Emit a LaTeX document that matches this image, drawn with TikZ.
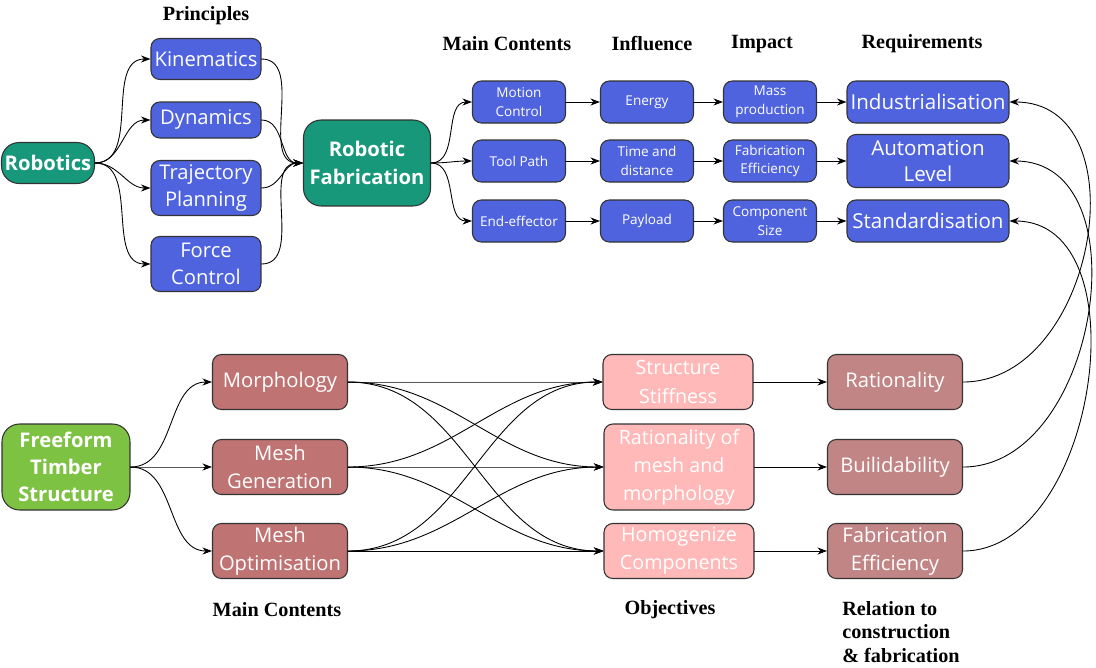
\documentclass[tikz,border=0pt]{standalone}
\usepackage{fontspec}
\setsansfont{Open Sans}
\newfontfamily\headfont{Liberation Serif}
\usepackage{tikz}
\usetikzlibrary{arrows.meta}
\usepackage{xcolor}
\definecolor{robteal}{HTML}{17987A}
\definecolor{robblue}{HTML}{4F63DF}
\definecolor{timbergreen}{HTML}{7DC243}
\definecolor{controse}{HTML}{BF7373}
\definecolor{objpink}{HTML}{FFB9B9}
\definecolor{relrose}{HTML}{C28585}

\begin{document}
\begin{tikzpicture}[x=0.02cm,y=-0.02cm,>={Stealth[length=1.9mm,width=1.4mm]},line cap=round,
  box/.style={draw=black!80,line width=0.6pt,rounded corners=5pt,text=white,align=center,inner sep=1pt,
    font=\sffamily\fontsize{11.5}{15.5}\selectfont},
  mainbox/.style={box,rounded corners=10pt,font=\sffamily\bfseries\fontsize{11.5}{15.5}\selectfont},
  prinbox/.style={box,fill=robblue,minimum width=2.2cm},
  rowbox/.style={box,fill=robblue,minimum width=1.86cm,minimum height=0.84cm,
    font=\sffamily\fontsize{7.7}{10.5}\selectfont},
  reqbox/.style={box,fill=robblue,minimum width=3.24cm,font=\sffamily\fontsize{11.7}{15}\selectfont},
  contbox/.style={box,fill=controse,minimum width=2.7cm,minimum height=1.1cm,font=\sffamily\fontsize{11.5}{16}\selectfont},
  objbox/.style={box,fill=objpink,minimum width=3.0cm,font=\sffamily\fontsize{11.2}{16}\selectfont},
  relbox/.style={box,fill=relrose,minimum width=2.7cm,minimum height=1.1cm,font=\sffamily\fontsize{11.5}{16}\selectfont},
  colhead/.style={font=\headfont\bfseries\fontsize{11.5}{13.4}\selectfont},
  link/.style={->,line width=0.5pt}]
\useasboundingbox (0,0) rectangle (1096,667);

% robotics part
\node[mainbox,fill=robteal,minimum width=1.86cm,minimum height=0.82cm] (rob) at (48,163) {Robotics};
\node[prinbox,minimum height=0.82cm] (kin) at (206,59) {Kinematics};
\node[prinbox,minimum height=0.72cm] (dyn) at (206,120) {Dynamics};
\node[prinbox,minimum height=1.1cm] (traj) at (206,188) {Trajectory\\Planning};
\node[prinbox,minimum height=1.1cm] (force) at (206,264) {Force\\Control};
\node[mainbox,fill=robteal,minimum width=2.54cm,minimum height=1.72cm] (robfab) at (367,163) {Robotic\\Fabrication};

\node[rowbox] (motion) at (519,102) {Motion\\Control};
\node[rowbox] (tool) at (519,161) {Tool Path};
\node[rowbox] (endeff) at (519,221) {End-effector};
\node[rowbox] (energy) at (647,102) {Energy};
\node[rowbox] (time) at (647,161) {Time and\\distance};
\node[rowbox] (payload) at (647,221) {Payload};
\node[rowbox] (mass) at (770,102) {Mass\\production};
\node[rowbox] (fabeff) at (770,161) {Fabrication\\Efficiency};
\node[rowbox] (compsize) at (770,221) {Component\\Size};
\node[reqbox,minimum height=0.84cm] (indus) at (928,102) {Industrialisation};
\node[reqbox,minimum height=1.06cm] (auto) at (928,161) {Automation\\Level};
\node[reqbox,minimum height=0.84cm] (stand) at (928,221) {Standardisation};

\node[colhead] (hprin) at (206,16) {Principles};
\node[colhead] (hmain) at (507,44) {Main Contents};
\node[colhead] (hinfl) at (652,44) {Influence};
\node[colhead] (himp) at (762,44) {Impact};
\node[colhead] (hreq) at (922,44) {Requirements};

\foreach \p in {kin,dyn,traj,force}{
  \draw[link] (rob.east) to[out=0,in=180] (\p.west);
  \draw[link] (\p.east) to[out=0,in=180] (robfab.west);
}
\foreach \r in {motion,tool,endeff}
  \draw[link] (robfab.east) to[out=0,in=180] (\r.west);
\foreach \a/\b in {motion/energy,energy/mass,mass/indus,tool/time,time/fabeff,fabeff/auto,endeff/payload,payload/compsize,compsize/stand}
  \draw[link] (\a) -- (\b);

% timber part
\node[mainbox,fill=timbergreen,minimum width=2.56cm,minimum height=1.72cm] (timber) at (66,467) {Freeform\\Timber\\Structure};
\node[contbox] (morph) at (280,382) {Morphology};
\node[contbox] (meshgen) at (280,467) {Mesh\\Generation};
\node[contbox] (meshopt) at (280,551) {Mesh\\Optimisation};
\node[objbox,minimum height=1.1cm] (stiff) at (678,382) {Structure\\Stiffness};
\node[objbox,minimum height=1.72cm] (ratmesh) at (679,467) {Rationality of\\mesh and\\morphology};
\node[objbox,minimum height=1.1cm] (homog) at (679,551) {Homogenize\\Components};
\node[relbox] (ration) at (895,382) {Rationality};
\node[relbox] (build) at (895,467) {Builidability};
\node[relbox] (fabeff2) at (895,551) {Fabrication\\Efficiency};

\node[colhead] (hcont) at (277,610) {Main Contents};
\node[colhead] (hobj) at (670,610) {Objectives};
\node[colhead,anchor=north west,align=left,inner sep=0pt] (hrel) at (842,601) {Relation to\\construction\\\& fabrication};

\foreach \c in {morph,meshgen,meshopt}{
  \draw[link] (timber.east) to[out=0,in=180] (\c.west);
  \foreach \o in {stiff,ratmesh,homog}
    \draw[link] (\c.east) to[out=0,in=180] (\o.west);
}
\foreach \a/\b in {stiff/ration,ratmesh/build,homog/fabeff2}
  \draw[link] (\a) -- (\b);
\draw[link] (ration.east) to[out=0,in=0,looseness=1.2] (indus.east);
\draw[link] (build.east) to[out=0,in=0,looseness=1.12] (auto.east);
\draw[link] (fabeff2.east) to[out=0,in=0,looseness=1.03] (stand.east);
\end{tikzpicture}
\end{document}
